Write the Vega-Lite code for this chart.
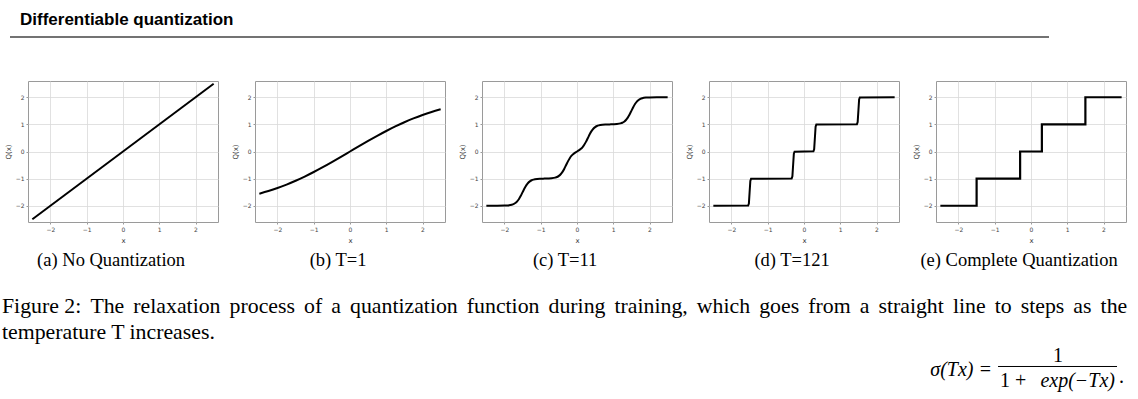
{
  "$schema": "https://vega.github.io/schema/vega-lite/v6.json",
  "autosize": {"type": "none"},
  "padding": {"left": 28, "top": 27, "right": 1110, "bottom": 372},
  "background": "white",
  "datasets": {
    "curves": [
      {"p": "a", "x": -2.5, "y": -2.5}, {"p": "a", "x": 2.5, "y": 2.5},

      {"p": "b", "x": -2.5, "y": -1.556}, {"p": "b", "x": -2.25, "y": -1.459}, {"p": "b", "x": -2.0, "y": -1.348},
      {"p": "b", "x": -1.75, "y": -1.221}, {"p": "b", "x": -1.5, "y": -1.079}, {"p": "b", "x": -1.25, "y": -0.924},
      {"p": "b", "x": -1.0, "y": -0.756}, {"p": "b", "x": -0.75, "y": -0.577}, {"p": "b", "x": -0.5, "y": -0.39},
      {"p": "b", "x": -0.25, "y": -0.196}, {"p": "b", "x": 0, "y": 0}, {"p": "b", "x": 0.25, "y": 0.196},
      {"p": "b", "x": 0.5, "y": 0.39}, {"p": "b", "x": 0.75, "y": 0.577}, {"p": "b", "x": 1.0, "y": 0.756},
      {"p": "b", "x": 1.25, "y": 0.924}, {"p": "b", "x": 1.5, "y": 1.079}, {"p": "b", "x": 1.75, "y": 1.221},
      {"p": "b", "x": 2.0, "y": 1.348}, {"p": "b", "x": 2.25, "y": 1.459}, {"p": "b", "x": 2.5, "y": 1.556},

      {"p": "c", "x": -2.5, "y": -2.0}, {"p": "c", "x": -2.2, "y": -1.999}, {"p": "c", "x": -2.0, "y": -1.996},
      {"p": "c", "x": -1.9, "y": -1.988}, {"p": "c", "x": -1.8, "y": -1.964}, {"p": "c", "x": -1.75, "y": -1.94},
      {"p": "c", "x": -1.7, "y": -1.9}, {"p": "c", "x": -1.65, "y": -1.839}, {"p": "c", "x": -1.6, "y": -1.75},
      {"p": "c", "x": -1.55, "y": -1.634}, {"p": "c", "x": -1.5, "y": -1.5}, {"p": "c", "x": -1.45, "y": -1.366},
      {"p": "c", "x": -1.4, "y": -1.25}, {"p": "c", "x": -1.35, "y": -1.161}, {"p": "c", "x": -1.3, "y": -1.1},
      {"p": "c", "x": -1.25, "y": -1.06}, {"p": "c", "x": -1.2, "y": -1.036}, {"p": "c", "x": -1.1, "y": -1.012},
      {"p": "c", "x": -1.0, "y": -1.004}, {"p": "c", "x": -0.9, "y": -1.0}, {"p": "c", "x": -0.8, "y": -0.996},
      {"p": "c", "x": -0.7, "y": -0.988}, {"p": "c", "x": -0.6, "y": -0.964}, {"p": "c", "x": -0.55, "y": -0.94},
      {"p": "c", "x": -0.5, "y": -0.9}, {"p": "c", "x": -0.45, "y": -0.839}, {"p": "c", "x": -0.4, "y": -0.75},
      {"p": "c", "x": -0.35, "y": -0.633}, {"p": "c", "x": -0.3, "y": -0.499}, {"p": "c", "x": -0.25, "y": -0.364},
      {"p": "c", "x": -0.2, "y": -0.246}, {"p": "c", "x": -0.15, "y": -0.154}, {"p": "c", "x": -0.1, "y": -0.088},
      {"p": "c", "x": -0.05, "y": -0.039}, {"p": "c", "x": 0, "y": 0}, {"p": "c", "x": 0.05, "y": 0.039},
      {"p": "c", "x": 0.1, "y": 0.088}, {"p": "c", "x": 0.15, "y": 0.154}, {"p": "c", "x": 0.2, "y": 0.246},
      {"p": "c", "x": 0.25, "y": 0.364}, {"p": "c", "x": 0.3, "y": 0.499}, {"p": "c", "x": 0.35, "y": 0.633},
      {"p": "c", "x": 0.4, "y": 0.75}, {"p": "c", "x": 0.45, "y": 0.839}, {"p": "c", "x": 0.5, "y": 0.9},
      {"p": "c", "x": 0.55, "y": 0.94}, {"p": "c", "x": 0.6, "y": 0.964}, {"p": "c", "x": 0.7, "y": 0.988},
      {"p": "c", "x": 0.8, "y": 0.996}, {"p": "c", "x": 0.9, "y": 1.0}, {"p": "c", "x": 1.0, "y": 1.004},
      {"p": "c", "x": 1.1, "y": 1.012}, {"p": "c", "x": 1.2, "y": 1.036}, {"p": "c", "x": 1.25, "y": 1.06},
      {"p": "c", "x": 1.3, "y": 1.1}, {"p": "c", "x": 1.35, "y": 1.161}, {"p": "c", "x": 1.4, "y": 1.25},
      {"p": "c", "x": 1.45, "y": 1.366}, {"p": "c", "x": 1.5, "y": 1.5}, {"p": "c", "x": 1.55, "y": 1.634},
      {"p": "c", "x": 1.6, "y": 1.75}, {"p": "c", "x": 1.65, "y": 1.839}, {"p": "c", "x": 1.7, "y": 1.9},
      {"p": "c", "x": 1.75, "y": 1.94}, {"p": "c", "x": 1.8, "y": 1.964}, {"p": "c", "x": 1.9, "y": 1.988},
      {"p": "c", "x": 2.0, "y": 1.996}, {"p": "c", "x": 2.2, "y": 1.999}, {"p": "c", "x": 2.5, "y": 2.0},

      {"p": "d", "x": -2.5, "y": -2.0}, {"p": "d", "x": -1.54, "y": -1.992}, {"p": "d", "x": -1.52, "y": -1.918},
      {"p": "d", "x": -1.5, "y": -1.5}, {"p": "d", "x": -1.48, "y": -1.082}, {"p": "d", "x": -1.46, "y": -1.008},
      {"p": "d", "x": -0.34, "y": -0.992}, {"p": "d", "x": -0.32, "y": -0.918}, {"p": "d", "x": -0.3, "y": -0.5},
      {"p": "d", "x": -0.28, "y": -0.082}, {"p": "d", "x": -0.26, "y": -0.008}, {"p": "d", "x": 0.26, "y": 0.008},
      {"p": "d", "x": 0.28, "y": 0.082}, {"p": "d", "x": 0.3, "y": 0.5}, {"p": "d", "x": 0.32, "y": 0.918},
      {"p": "d", "x": 0.34, "y": 0.992}, {"p": "d", "x": 1.46, "y": 1.008}, {"p": "d", "x": 1.48, "y": 1.082},
      {"p": "d", "x": 1.5, "y": 1.5}, {"p": "d", "x": 1.52, "y": 1.918}, {"p": "d", "x": 1.54, "y": 1.992},
      {"p": "d", "x": 2.5, "y": 2.0},

      {"p": "e", "i": 0, "x": -2.5, "y": -2}, {"p": "e", "i": 1, "x": -1.5, "y": -2}, {"p": "e", "i": 2, "x": -1.5, "y": -1},
      {"p": "e", "i": 3, "x": -0.3, "y": -1}, {"p": "e", "i": 4, "x": -0.3, "y": 0}, {"p": "e", "i": 5, "x": 0.3, "y": 0},
      {"p": "e", "i": 6, "x": 0.3, "y": 1}, {"p": "e", "i": 7, "x": 1.5, "y": 1}, {"p": "e", "i": 8, "x": 1.5, "y": 2},
      {"p": "e", "i": 9, "x": 2.5, "y": 2}
    ]
  },
  "config": {
    "view": {"stroke": "#9a9a9a", "strokeWidth": 1},
    "axis": {
      "grid": true, "gridColor": "#d9d9d9", "gridWidth": 0.8, "domain": false,
      "ticks": true, "tickColor": "#9a9a9a", "tickSize": 2,
      "labelFont": "DejaVu Sans", "labelFontSize": 6, "labelColor": "#444", "labelPadding": 2,
      "titleFont": "DejaVu Sans", "titleFontSize": 7, "titleFontWeight": "normal", "titleColor": "#333",
      "values": [-2, -1, 0, 1, 2]
    },
    "title": {"font": "Liberation Serif", "fontWeight": "normal", "color": "black"}
  },
  "bounds": "flush",
  "spacing": 44,
  "vconcat": [
    {
      "width": 1021, "height": 10,
      "view": {"stroke": null},
      "title": {"text": "Differentiable quantization", "anchor": "start", "frame": "group", "dx": -8, "offset": -15,
                "baseline": "alphabetic", "font": "Liberation Sans", "fontSize": 17, "fontWeight": "bold", "color": "black"},
      "data": {"values": [{"k": 0}]},
      "mark": {"type": "rule", "color": "#444", "strokeWidth": 1.5},
      "encoding": {
        "x": {"datum": -18, "type": "quantitative", "scale": {"domain": [0, 1021], "nice": false, "zero": false}, "axis": null},
        "x2": {"datum": 1021},
        "y": {"datum": 0, "type": "quantitative", "scale": {"domain": [0, 1]}, "axis": null}
      }
    },
    {
      "bounds": "flush",
      "spacing": 261,
      "vconcat": [
        {
          "bounds": "flush",
          "spacing": 37,
          "hconcat": [
            {
              "width": 190, "height": 141,
              "title": {"text": "(a) No Quantization", "orient": "bottom", "anchor": "middle", "frame": "bounds", "offset": 8, "fontSize": 18.5},
              "data": {"name": "curves"},
              "transform": [{"filter": "datum.p == 'a'"}],
              "mark": {"type": "line", "color": "black", "strokeWidth": 2},
              "encoding": {
                "x": {"field": "x", "type": "quantitative", "title": "x", "scale": {"domain": [-2.62, 2.62], "nice": false, "zero": false}},
                "y": {"field": "y", "type": "quantitative", "title": "Q(x)", "scale": {"domain": [-2.6, 2.6], "nice": false, "zero": false}}
              }
            },
            {
              "width": 190, "height": 141,
              "title": {"text": "(b) T=1", "orient": "bottom", "anchor": "middle", "frame": "bounds", "offset": 8, "fontSize": 18.5},
              "data": {"name": "curves"},
              "transform": [{"filter": "datum.p == 'b'"}],
              "mark": {"type": "line", "color": "black", "strokeWidth": 2, "interpolate": "monotone"},
              "encoding": {
                "x": {"field": "x", "type": "quantitative", "title": "x", "scale": {"domain": [-2.62, 2.62], "nice": false, "zero": false}},
                "y": {"field": "y", "type": "quantitative", "title": "Q(x)", "scale": {"domain": [-2.6, 2.6], "nice": false, "zero": false}}
              }
            },
            {
              "width": 190, "height": 141,
              "title": {"text": "(c) T=11", "orient": "bottom", "anchor": "middle", "frame": "bounds", "offset": 8, "fontSize": 18.5},
              "data": {"name": "curves"},
              "transform": [{"filter": "datum.p == 'c'"}],
              "mark": {"type": "line", "color": "black", "strokeWidth": 2, "interpolate": "monotone"},
              "encoding": {
                "x": {"field": "x", "type": "quantitative", "title": "x", "scale": {"domain": [-2.62, 2.62], "nice": false, "zero": false}},
                "y": {"field": "y", "type": "quantitative", "title": "Q(x)", "scale": {"domain": [-2.6, 2.6], "nice": false, "zero": false}}
              }
            },
            {
              "width": 190, "height": 141,
              "title": {"text": "(d) T=121", "orient": "bottom", "anchor": "middle", "frame": "bounds", "offset": 8, "fontSize": 18.5},
              "data": {"name": "curves"},
              "transform": [{"filter": "datum.p == 'd'"}],
              "mark": {"type": "line", "color": "black", "strokeWidth": 2},
              "encoding": {
                "x": {"field": "x", "type": "quantitative", "title": "x", "scale": {"domain": [-2.62, 2.62], "nice": false, "zero": false}},
                "y": {"field": "y", "type": "quantitative", "title": "Q(x)", "scale": {"domain": [-2.6, 2.6], "nice": false, "zero": false}}
              }
            },
            {
              "width": 190, "height": 141,
              "title": {"text": "(e) Complete Quantization", "orient": "bottom", "anchor": "middle", "frame": "bounds", "offset": 8, "fontSize": 18.5},
              "data": {"name": "curves"},
              "transform": [{"filter": "datum.p == 'e'"}],
              "mark": {"type": "line", "color": "black", "strokeWidth": 2.2},
              "encoding": {
                "x": {"field": "x", "type": "quantitative", "title": "x", "scale": {"domain": [-2.62, 2.62], "nice": false, "zero": false}},
                "y": {"field": "y", "type": "quantitative", "title": "Q(x)", "scale": {"domain": [-2.6, 2.6], "nice": false, "zero": false}},
                "order": {"field": "i", "type": "quantitative"}
              }
            }
          ]
        },
        {
          "width": 1110, "height": 52,
          "view": {"stroke": null},
          "title": {
            "text": ["Figure 2: \u2006The \u2006relaxation \u2006process \u2006of \u2006a \u2006quantization \u2006function \u2006during \u2006training, \u2006which \u2006goes \u2006from \u2006a \u2006straight \u2006line \u2006to \u2006steps \u2006as \u2006the", "temperature T increases."],
            "orient": "top", "anchor": "start", "frame": "group", "dx": -26, "offset": -19, "baseline": "alphabetic",
            "fontSize": 21.8, "lineHeight": 26
          },
          "layer": [
            {
              "data": {"values": [{"t": "σ(Tx) ="}]},
              "mark": {"type": "text", "font": "Liberation Serif", "fontSize": 20, "fontStyle": "italic", "align": "right", "baseline": "alphabetic", "color": "black"},
              "encoding": {
                "text": {"field": "t"},
                "x": {"datum": 86.85, "type": "quantitative", "scale": {"domain": [0, 100], "nice": false, "zero": false}, "axis": null},
                "y": {"datum": 35.5, "type": "quantitative", "scale": {"domain": [0, 100], "nice": false, "zero": false}, "axis": null}
              }
            },
            {
              "data": {"values": [{"t": "1"}]},
              "mark": {"type": "text", "font": "Liberation Serif", "fontSize": 20, "align": "center", "baseline": "alphabetic", "color": "black"},
              "encoding": {
                "text": {"field": "t"},
                "x": {"datum": 92.79, "type": "quantitative"},
                "y": {"datum": 61.5, "type": "quantitative"}
              }
            },
            {
              "data": {"values": [{"t": "bar"}]},
              "mark": {"type": "rule", "color": "black", "strokeWidth": 1},
              "encoding": {
                "x": {"datum": 87.39, "type": "quantitative"},
                "x2": {"datum": 98.11},
                "y": {"datum": 52.9, "type": "quantitative"}
              }
            },
            {
              "data": {"values": [{"t": "1 +"}]},
              "mark": {"type": "text", "font": "Liberation Serif", "fontSize": 20, "align": "left", "baseline": "alphabetic", "color": "black"},
              "encoding": {
                "text": {"field": "t"},
                "x": {"datum": 87.57, "type": "quantitative"},
                "y": {"datum": 13.5, "type": "quantitative"}
              }
            },
            {
              "data": {"values": [{"t": "exp(−Tx)"}]},
              "mark": {"type": "text", "font": "Liberation Serif", "fontSize": 20, "fontStyle": "italic", "align": "right", "baseline": "alphabetic", "color": "black"},
              "encoding": {
                "text": {"field": "t"},
                "x": {"datum": 97.93, "type": "quantitative"},
                "y": {"datum": 13.5, "type": "quantitative"}
              }
            },
            {
              "data": {"values": [{"t": "."}]},
              "mark": {"type": "text", "font": "Liberation Serif", "fontSize": 20, "align": "left", "baseline": "alphabetic", "color": "black"},
              "encoding": {
                "text": {"field": "t"},
                "x": {"datum": 98.29, "type": "quantitative"},
                "y": {"datum": 21.2, "type": "quantitative"}
              }
            }
          ]
        }
      ]
    }
  ]
}
